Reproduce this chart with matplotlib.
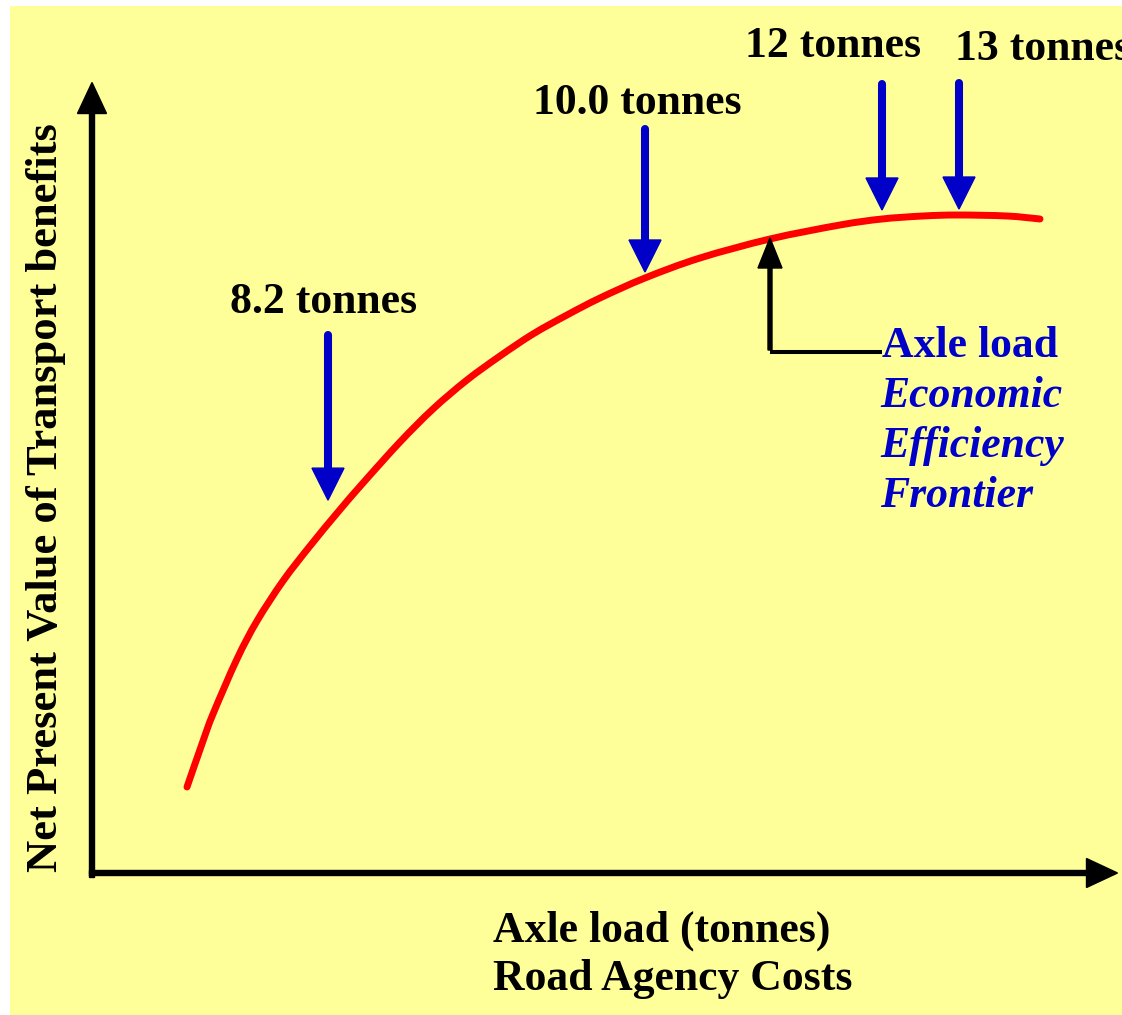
import matplotlib
matplotlib.use("Agg")
import matplotlib.pyplot as plt
from matplotlib.patches import Rectangle, PathPatch
from matplotlib.path import Path
import numpy as np

# ---- data (conceptual units: axle-load position, NPV of transport benefits) ----
curve_x = [95, 111, 121, 145, 165, 191, 218, 246, 271, 308, 341, 375, 408, 441,
           475, 508, 553, 608, 678, 748, 790, 831, 866, 915, 948]
curve_y = [88, 134, 161, 216, 254, 294, 329, 363, 392, 433, 466, 495, 519, 541,
           560, 577, 597, 617, 636, 650, 656, 659, 660, 659, 656]

marker_labels = ["8.2 tonnes", "10.0 tonnes", "12 tonnes", "13 tonnes"]
marker_x = [236, 553, 790, 867]

efficiency_x = 678
x_label = ["Axle load (tonnes)", "Road Agency Costs"]
y_label = "Net Present Value of Transport benefits"
frontier_label = ["Economic", "Efficiency", "Frontier"]

# ---- styles ----
BG = "#FFFF99"
RED = "#FF0000"
BLUE = "#0000C8"
FONT = "Liberation Serif"
FS = 31.5

W, H = 1122, 1015
fig = plt.figure(figsize=(W / 100, H / 100), dpi=100)
fig.patch.set_facecolor("white")
ax = fig.add_axes([0, 0, 1, 1])
ax.set_xlim(-92, 1030)
ax.set_ylim(-140, 875)
ax.axis("off")
ax.add_patch(Rectangle((10 / W, 0), 1112 / W, 1009 / H,
                       transform=fig.transFigure, facecolor=BG,
                       edgecolor="none", zorder=0))

# axes arrows
ax.arrow(0, -2.5, 0, 795, width=5, head_width=29, head_length=31,
         length_includes_head=True, color="black", zorder=3)
ax.arrow(-2.5, 2, 1028, 0, width=5, head_width=29, head_length=31,
         length_includes_head=True, color="black", zorder=3)


# frontier curve, rendered as a smooth (Catmull-Rom) path through the points
def smooth_path(xs, ys):
    pts = np.column_stack([xs, ys]).astype(float)
    n = len(pts)
    verts = [pts[0]]
    codes = [Path.MOVETO]
    for i in range(n - 1):
        p0 = pts[i - 1] if i > 0 else pts[i]
        p1, p2 = pts[i], pts[i + 1]
        p3 = pts[i + 2] if i + 2 < n else pts[i + 1]
        c1 = p1 + (p2 - p0) / 6.0
        c2 = p2 - (p3 - p1) / 6.0
        verts += [c1, c2, p2]
        codes += [Path.CURVE4] * 3
    return Path(verts, codes)


ax.add_patch(PathPatch(smooth_path(curve_x, curve_y), facecolor="none",
                       edgecolor=RED, lw=5.0, capstyle="round",
                       joinstyle="round", zorder=4))

# blue marker arrows
tip_gap = [24, 6, 9, 6]
arrow_len = [165, 143, 126, 126]
for mx, gap, L in zip(marker_x, tip_gap, arrow_len):
    cy = np.interp(mx, curve_x, curve_y)
    tip = cy + gap
    top = tip + L
    ax.plot([mx, mx], [top, tip + 30], color=BLUE, lw=5.8,
            solid_capstyle="round", zorder=5)
    ax.arrow(mx, tip + 32, 0, -32, width=8, head_width=32, head_length=32,
             length_includes_head=True, color=BLUE, zorder=5)

label_pos = [(138, 562), (441, 761), (653, 818), (863, 815)]
for txt, (lx, ly) in zip(marker_labels, label_pos):
    ax.text(lx, ly, txt, fontfamily=FONT, fontweight="bold", fontsize=FS,
            ha="left", va="baseline", color="black", zorder=6)

# black callout arrow to the efficiency frontier
ey = np.interp(efficiency_x, curve_x, curve_y)
ax.plot([790, efficiency_x], [523, 523], color="black", lw=2.9,
        solid_capstyle="butt", zorder=5)
ax.arrow(efficiency_x, 525, 0, (ey + 1) - 525, width=4, head_width=24,
         head_length=30, length_includes_head=True, color="black", zorder=5)

ax.text(790, 518, "Axle load", fontfamily=FONT, fontweight="bold",
        fontsize=FS, color=BLUE, ha="left", va="baseline", zorder=6)
for i, t in enumerate(frontier_label):
    ax.text(788, 468 - 50 * i, t, fontfamily=FONT, fontweight="bold",
            fontstyle="italic", fontsize=FS, color=BLUE, ha="left",
            va="baseline", zorder=6)

# axis labels
ax.text(401, -67, x_label[0], fontfamily=FONT, fontweight="bold",
        fontsize=FS, ha="left", va="baseline", zorder=6)
ax.text(401, -115, x_label[1], fontfamily=FONT, fontweight="bold",
        fontsize=FS, ha="left", va="baseline", zorder=6)
ax.text(-46, 377, y_label, fontfamily=FONT, fontweight="bold", fontsize=32,
        rotation=90, ha="center", va="center", zorder=6)

fig.savefig("out.png", dpi=100)
